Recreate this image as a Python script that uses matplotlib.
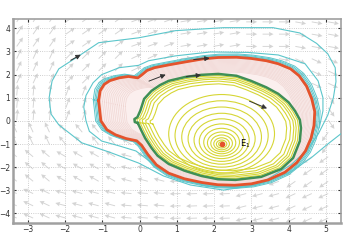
import numpy as np
import matplotlib
matplotlib.use("Agg")
import matplotlib.pyplot as plt
from matplotlib.patches import Ellipse

# outer stable cycle (red) and inner cycle (green)
red_x = [-1.10, -1.06, -0.95, -0.80, -0.55, -0.30, -0.05, 0.05, 0.20, 0.40, 0.78, 1.23, 1.70,
         2.11, 2.60, 2.99, 3.40, 3.72, 4.05, 4.28, 4.48, 4.62, 4.70, 4.68, 4.60, 4.45, 4.22,
         3.90, 3.45, 3.00, 2.55, 2.10, 1.66, 1.20, 0.78, 0.45, 0.22, 0.05, -0.08, -0.37, -0.65,
         -0.88, -1.04, -1.10]
red_y = [0.87, 1.30, 1.58, 1.74, 1.86, 1.92, 1.86, 1.98, 2.18, 2.30, 2.42, 2.55, 2.68,
         2.74, 2.75, 2.70, 2.60, 2.47, 2.25, 1.95, 1.50, 0.95, 0.40, -0.20, -0.75, -1.30, -1.80,
         -2.22, -2.55, -2.72, -2.78, -2.76, -2.66, -2.50, -2.26, -1.90, -1.45, -1.05, -0.86, -0.76, -0.60,
         -0.38, 0.00, 0.87]

green_x = [-0.05, -0.13, -0.14, -0.06, 0.02, 0.12, 0.32, 0.55, 0.78, 1.23, 1.66, 2.11, 2.60,
           2.99, 3.40, 3.72, 4.00, 4.17, 4.30, 4.33, 4.30, 4.12, 3.80, 3.26, 2.57, 2.10, 1.66,
           1.20, 0.78, 0.48, 0.32, 0.15, 0.05, -0.05]
green_y = [-0.09, -0.05, 0.08, 0.16, 0.45, 0.95, 1.30, 1.55, 1.73, 1.90, 1.99, 2.03, 1.95,
           1.73, 1.45, 1.17, 0.80, 0.43, 0.05, -0.30, -0.87, -1.60, -2.08, -2.42, -2.55, -2.52, -2.38,
           -2.15, -1.86, -1.50, -1.17, -0.75, -0.43, -0.09]

# cyan trajectory spiralling in towards the red cycle
cyan_x = [5.40, 5.05, 4.60, 4.04, 3.13, 2.25, 1.36, 0.64, -0.03, -0.83, -1.55, -2.17, -2.38,
          -2.43, -2.35, -2.17, -1.63, -1.10, -0.03, 0.96, 2.25, 3.58, 4.30, 4.75, 5.05, 5.25,
          5.27, 5.20, 5.05, 4.80, 4.50, 4.06, 3.40, 2.60, 1.80, 1.00, 0.50, 0.15, -0.10, -0.55,
          -1.02, -1.35, -1.44, -1.50, -1.44, -1.25, -1.02, -0.55, -0.03, 0.24, 0.96, 1.90, 2.90,
          3.72, 4.44, 4.79, 4.92, 4.92, 4.82]
cyan_y = [-0.56, -1.00, -1.60, -2.21, -2.77, -2.99, -2.77, -2.38, -1.82, -1.34, -0.95, -0.17, 0.30,
          1.00, 1.73, 2.25, 2.81, 3.38, 3.59, 3.90, 4.03, 4.03, 3.80, 3.35, 2.90, 2.30,
          1.70, 1.00, 0.25, -0.55, -1.25, -1.90, -2.55, -2.88, -2.82, -2.45, -2.05, -1.60, -1.30, -1.08,
          -0.87, -0.45, 0.00, 0.60, 1.10, 1.65, 2.00, 2.30, 2.40, 2.60, 2.81, 2.98, 2.96,
          2.85, 2.47, 1.73, 1.00, 0.43, -0.30]
bundle_scale = [1.012, 1.024, 1.036, 1.05]
pink_scale = [0.985, 0.97, 0.955, 0.94, 0.925, 0.91, 0.895, 0.88, 0.865, 0.85, 0.835, 0.82, 0.805, 0.79]

# yellow closed orbits around E1
E1 = (2.2, -1.0)
yel_rx = [0.08, 0.14, 0.21, 0.29, 0.38, 0.48, 0.60, 0.74, 0.90, 1.07, 1.25, 1.42]
yel_ry = [0.10, 0.17, 0.26, 0.36, 0.47, 0.60, 0.75, 0.92, 1.10, 1.30, 1.50, 1.70]
yel_cy = [-1.0, -1.0, -0.99, -0.97, -0.95, -0.92, -0.88, -0.83, -0.77, -0.70, -0.63, -0.56]
yel_scale = [0.97, 0.94, 0.91, 0.87, 0.82]

# direction of the background field (degrees), by block
fld_xb = [-3.4, -2.0, -0.5, 1.0, 2.5, 4.0, 5.4]
fld_yb = [4.4, 3.0, 1.5, 0.0, -1.5, -3.0, -4.4]
fld_ang = [[55, 35, 20, 10, 0, -10],
           [65, 45, 25, 5, -10, -25],
           [85, 70, 30, 0, -40, -55],
           [115, 130, 150, 180, 230, 235],
           [140, 150, 165, 180, 200, 215],
           [155, 165, 175, 182, 195, 205]]

# trajectory arrowheads (tail, head)
arr_tail = [(-1.85, 2.62), (0.25, 1.72), (1.45, 2.65), (1.25, 1.92), (2.95, 0.85)]
arr_head = [(-1.58, 2.86), (0.70, 2.00), (1.88, 2.71), (1.65, 1.98), (3.42, 0.54)]


def scaled(xs, ys, s, cx, cy):
    xs = np.asarray(xs)
    ys = np.asarray(ys)
    return cx + s * (xs - cx), cy + s * (ys - cy)


fig = plt.figure(figsize=(3.51, 2.48), dpi=100)
ax = fig.add_axes([0.037, 0.102, 0.934, 0.821])

# background field
gx = np.arange(-3.3, 5.4, 0.44)
gy = np.arange(-4.2, 4.4, 0.53)
QX, QY = np.meshgrid(gx, gy)
ang = np.zeros_like(QX)
for i in range(QX.shape[0]):
    for j in range(QX.shape[1]):
        c = np.searchsorted(fld_xb, QX[i, j]) - 1
        r = len(fld_yb) - 1 - np.searchsorted(fld_yb[::-1], QY[i, j])
        c = min(max(c, 0), 5)
        r = min(max(r, 0), 5)
        ang[i, j] = np.radians(fld_ang[r][c])
ax.quiver(QX, QY, np.cos(ang), np.sin(ang), color='#d4d4d4', angles='uv',
          scale=30, scale_units='width', width=0.0028, headwidth=5, headlength=5,
          headaxislength=4.5, zorder=1)

# pink band between the cycles
ax.fill(red_x, red_y, color='#fbefee', lw=0, zorder=2)
for s in pink_scale:
    px, py = scaled(red_x, red_y, s, 2.3, -0.3)
    ax.plot(px, py, color='#f0d6d3', lw=0.5, zorder=2)
ax.fill(green_x, green_y, color='white', lw=0, zorder=3)

# yellow orbits
for rx, ry, cy in zip(yel_rx, yel_ry, yel_cy):
    ax.add_patch(Ellipse((E1[0], cy), 2 * rx, 2 * ry, fill=False, ec='#d6d635', lw=0.8, zorder=4))
for s in yel_scale:
    px, py = scaled(green_x, green_y, s, 2.2, -0.35)
    ax.plot(px, py, color='#d6d635', lw=0.8, zorder=4)

# cyan
for s in bundle_scale:
    px, py = scaled(red_x, red_y, s, 1.8, -0.1)
    ax.plot(px, py, color='#5cc6cb', lw=0.7, zorder=5)
ax.plot(cyan_x, cyan_y, color='#5cc6cb', lw=0.8, zorder=5)

ax.plot(green_x, green_y, color='#3f8f55', lw=1.8, zorder=6)
ax.plot(red_x, red_y, color='#e4532c', lw=2.0, zorder=6)

ax.plot(*E1, 'o', color='#e4532c', ms=3, zorder=7)
ax.text(E1[0] + 0.5, E1[1], 'E$_1$', fontsize=6, va='center', zorder=7)

for t, h in zip(arr_tail, arr_head):
    ax.annotate('', xy=h, xytext=t, zorder=8,
                arrowprops=dict(arrowstyle='-|>', color='#333333', lw=0.7,
                                mutation_scale=7, shrinkA=0, shrinkB=0))

ax.set_xlim(-3.4, 5.4)
ax.set_ylim(-4.4, 4.4)
ax.set_xticks(range(-3, 6))
ax.set_yticks(range(-4, 5))
ax.grid(True, ls=':', color='#c0c0c0', lw=0.6)
ax.tick_params(direction='in', length=2.5, labelsize=5.5, colors='#333333',
               top=True, right=True, pad=2)
for sp in ax.spines.values():
    sp.set_color('#a0a0a0')
    sp.set_linewidth(1.2)
ax.spines['left'].set_linewidth(1.8)
ax.spines['bottom'].set_linewidth(1.8)

fig.savefig('out.png', dpi=100)
